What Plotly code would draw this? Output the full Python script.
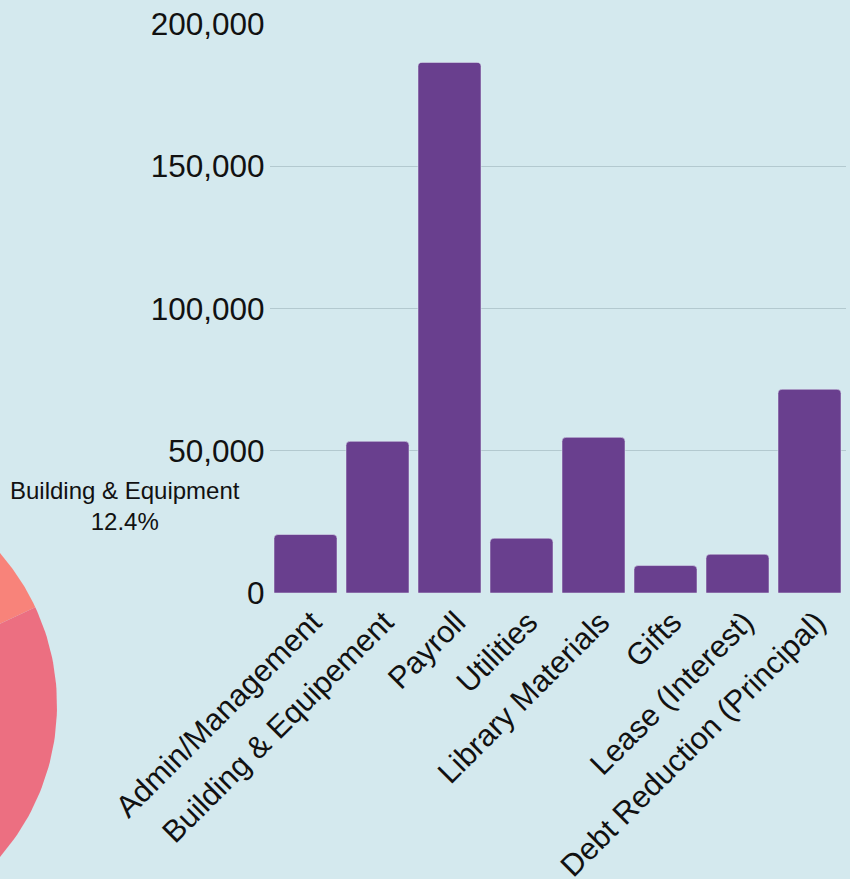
import numpy as np
import plotly.graph_objects as go

# ---- data ----
categories = ["Admin/Management", "Building & Equipement", "Payroll", "Utilities",
              "Library Materials", "Gifts", "Lease (Interest)", "Debt Reduction (Principal)"]
amounts = [20560, 53310, 186500, 19260, 54720, 9650, 13630, 71620]
pie_labels = ["Admin/Management", "Building & Equipment", "Payroll", "Utilities",
              "Library Materials", "Gifts", "Lease (Interest)", "Debt Reduction (Principal)"]
pie_colors = ["#fbb468", "#f8837a", "#ec6f81", "#d65d8e", "#b24f96", "#8e4598", "#6b3f8f", "#4b3680"]
y_ticks = [0, 50000, 100000, 150000, 200000]

W, H = 850, 879
BG = "#d4e9ee"
FONT = "Liberation Sans, Arial, sans-serif"

fig = go.Figure()

# ---- pie (partially visible, drawn on a hidden pixel-scaled axis) ----
cx, cy, r = -174, 705, 231
rotation = 3.0
total = float(sum(amounts))
fracs = [a / total for a in amounts]
start = rotation
for lab, f, col in zip(pie_labels, fracs, pie_colors):
    end = start + f * 360.0
    th = np.radians(np.linspace(start, end, 120))
    xs = np.concatenate([[cx], cx + r * np.sin(th), [cx]])
    ys = np.concatenate([[cy], cy - r * np.cos(th), [cy]])
    fig.add_trace(go.Scatter(x=xs, y=ys, mode="lines", fill="toself", fillcolor=col,
                             line=dict(width=0, color=col), hoverinfo="skip",
                             showlegend=False, xaxis="x2", yaxis="y2"))
    start = end

# ---- bars ----
fig.add_trace(go.Bar(x=categories, y=amounts, marker=dict(color="#693f8e", cornerradius=4),
                     showlegend=False, xaxis="x", yaxis="y"))

bld_pct = fracs[1] * 100
fig.add_annotation(x=125 / W, y=(H - 506) / H, xref="paper", yref="paper",
                   text=f"{pie_labels[1]}<br>{bld_pct:.1f}%", showarrow=False,
                   font=dict(size=24, color="#111111", family=FONT), align="center",
                   xanchor="center", yanchor="middle")

fig.update_layout(
    width=W, height=H,
    margin=dict(l=0, r=0, t=0, b=0, autoexpand=False),
    paper_bgcolor=BG, plot_bgcolor="rgba(0,0,0,0)",
    bargap=0.125,
    font=dict(family=FONT, color="#111111"),
    xaxis=dict(domain=[269.5 / W, 845.5 / W], anchor="y", tickangle=-45, automargin=False,
               tickfont=dict(size=30.8, color="#111111"), showgrid=False, zeroline=False,
               showline=False, ticks="", ticklabelshift=7, ticklabelstandoff=4),
    yaxis=dict(domain=[(H - 593) / H, (H - 24) / H], anchor="x", range=[0, 200000],
               automargin=False, ticklabelstandoff=4,
               tickvals=y_ticks, tickformat=",", tickfont=dict(size=31.5, color="#111111"),
               showgrid=True, gridcolor="#b3c9cf", gridwidth=1, zeroline=False,
               showline=False, ticks=""),
    xaxis2=dict(domain=[0, 1], anchor="y2", range=[0, W], visible=False, fixedrange=True),
    yaxis2=dict(domain=[0, 1], anchor="x2", range=[H, 0], visible=False, fixedrange=True),
)

fig.write_html("out.html", config={"displayModeBar": False},
               post_script="document.body.style.margin='0px';document.body.style.overflow='hidden';")
